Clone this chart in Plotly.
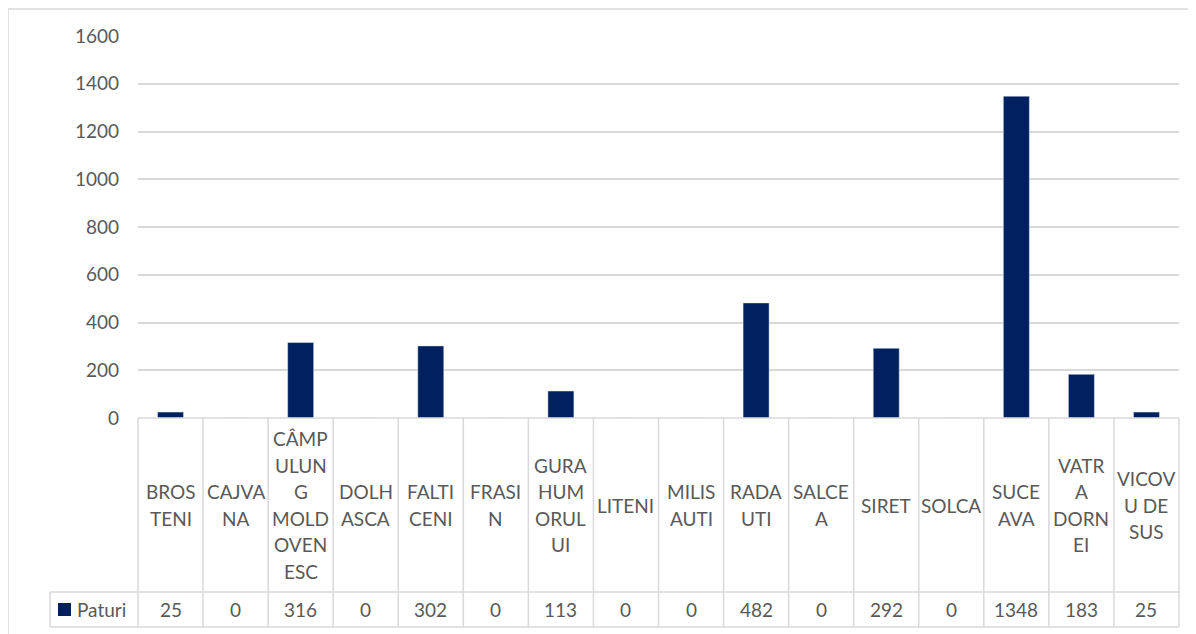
import plotly.graph_objects as go

# ---- data ----
categories = ["BROSTENI", "CAJVANA", "CÂMPULUNG MOLDOVENESC", "DOLHASCA", "FALTICENI",
              "FRASIN", "GURA HUMORULUI", "LITENI", "MILISAUTI", "RADAUTI", "SALCEA",
              "SIRET", "SOLCA", "SUCEAVA", "VATRA DORNEI", "VICOVU DE SUS"]
wrapped_labels = ["BROS|TENI", "CAJVA|NA", "CÂMP|ULUN|G|MOLD|OVEN|ESC", "DOLH|ASCA",
                  "FALTI|CENI", "FRASI|N", "GURA|HUM|ORUL|UI", "LITENI", "MILIS|AUTI",
                  "RADA|UTI", "SALCE|A", "SIRET", "SOLCA", "SUCE|AVA", "VATR|A|DORN|EI",
                  "VICOV|U DE|SUS"]
series_name = "Paturi"
paturi = [25, 0, 316, 0, 302, 0, 113, 0, 0, 482, 0, 292, 0, 1348, 183, 25]
y_ticks = [0, 200, 400, 600, 800, 1000, 1200, 1400, 1600]

# ---- layout constants (page pixels) ----
OFF = 8                      # page body margin
W, H = 1196 - OFF, 634 - OFF
PL, PR = 138, 1179           # plot/table left & right
PT, PB = 36, 418             # plot top & bottom (y=1600, y=0)
ROW1_B = 592                 # bottom of category row
ROW2_B = 627                 # bottom of value row
LEG_L = 50                   # left of legend cell
FONT = "Lato"
TXT = "#595959"
GRID = "#d9d9d9"
BAR = "#002060"
FS = 19
LINE_H = 26.5

pw = PR - PL
ph = PB - PT
n = len(categories)


def px_x(x):
    return (x - PL) / pw


def px_y(y):
    return (PB - y) / ph


fig = go.Figure()
fig.add_trace(go.Bar(
    x=list(range(n)), y=paturi, name=series_name, marker_color=BAR,
    width=0.4, showlegend=False, hovertext=categories,
))

shapes = []
annotations = []

# outer chart border
shapes.append(dict(type="rect", xref="paper", yref="paper",
                   x0=px_x(8), x1=px_x(1215), y0=px_y(9), y1=px_y(660),
                   line=dict(color=GRID, width=1.5), fillcolor="rgba(0,0,0,0)"))

# table horizontal lines
shapes.append(dict(type="line", xref="paper", yref="paper", x0=0, x1=1,
                   y0=0, y1=0, line=dict(color=GRID, width=1.5)))
for yy in (ROW1_B, ROW2_B):
    shapes.append(dict(type="line", xref="paper", yref="paper", x0=px_x(LEG_L), x1=1,
                       y0=px_y(yy), y1=px_y(yy), line=dict(color=GRID, width=1.5)))
# table vertical lines
for k in range(n + 1):
    shapes.append(dict(type="line", xref="paper", yref="paper", x0=k / n, x1=k / n,
                       y0=0, y1=px_y(ROW2_B), line=dict(color=GRID, width=1.5)))
shapes.append(dict(type="line", xref="paper", yref="paper", x0=px_x(LEG_L), x1=px_x(LEG_L),
                   y0=px_y(ROW1_B), y1=px_y(ROW2_B), line=dict(color=GRID, width=1.5)))

# category labels (vertically centred in the category row)
cy = (PB + ROW1_B) / 2
for i, lab in enumerate(wrapped_labels):
    lines = lab.split("|")
    m = len(lines)
    for j, t in enumerate(lines):
        yy = cy + (j - (m - 1) / 2) * LINE_H
        annotations.append(dict(x=(i + 0.5) / n, y=px_y(yy), xref="paper", yref="paper",
                                text=t, showarrow=False, xanchor="center", yanchor="middle",
                                font=dict(family=FONT, size=FS, color=TXT)))

# value row
vy = px_y((ROW1_B + ROW2_B) / 2)
for i, v in enumerate(paturi):
    annotations.append(dict(x=(i + 0.5) / n, y=vy, xref="paper", yref="paper",
                            text=str(v), showarrow=False, xanchor="center", yanchor="middle",
                            font=dict(family=FONT, size=FS, color=TXT)))

# legend key in table
shapes.append(dict(type="rect", xref="paper", yref="paper",
                   x0=px_x(58), x1=px_x(71), y0=px_y(603), y1=px_y(616),
                   line=dict(width=0), fillcolor=BAR))
annotations.append(dict(x=px_x(75), y=vy, xref="paper", yref="paper", text=series_name,
                        showarrow=False, xanchor="left", yanchor="middle",
                        font=dict(family=FONT, size=FS, color=TXT)))

fig.update_layout(
    width=W, height=H,
    margin=dict(l=PL - OFF, r=W - (PR - OFF), t=PT - OFF, b=H - (PB - OFF), pad=0),
    paper_bgcolor="white", plot_bgcolor="white",
    font=dict(family=FONT, size=FS, color=TXT),
    bargap=0.6,
    shapes=shapes, annotations=annotations,
    xaxis=dict(range=[-0.5, n - 0.5], showticklabels=False, showgrid=False,
               zeroline=False, showline=False, ticks="", fixedrange=True),
    yaxis=dict(range=[0, 1600], tickvals=y_ticks, showgrid=True, gridcolor=GRID,
               gridwidth=1.5, zeroline=False, showline=False, ticks="",
               ticklabelstandoff=18, tickfont=dict(family=FONT, size=FS, color=TXT)),
)

fig.write_html("out.html")
